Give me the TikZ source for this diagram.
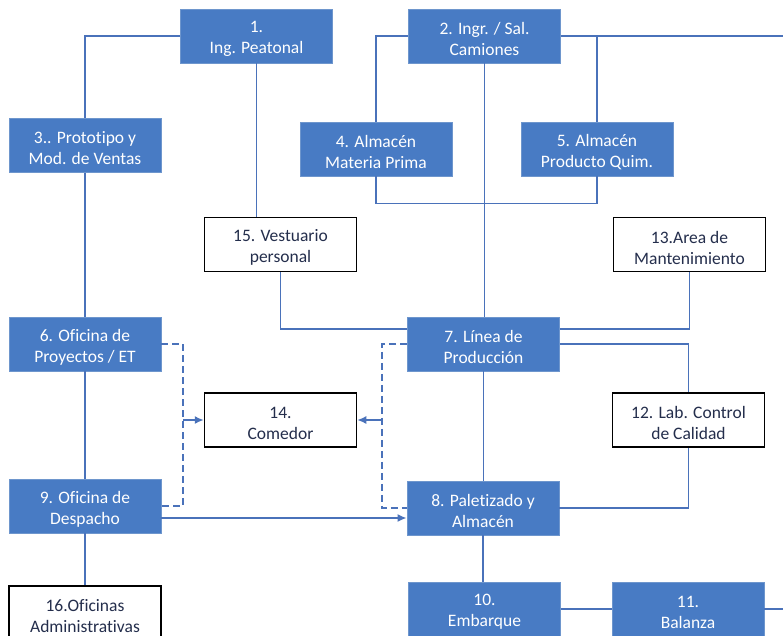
\documentclass[tikz,border=0pt]{standalone}
\usepackage{fontspec}
\setmainfont{Carlito}[Ligatures={NoCommon,NoRequired,NoContextual}]
\usetikzlibrary{arrows.meta,calc}
\definecolor{boxblue}{RGB}{72,123,196}
\definecolor{boxedge}{RGB}{110,150,205}
\definecolor{linkblue}{RGB}{74,114,186}
\definecolor{inktext}{RGB}{36,46,76}
\tikzset{
  area/.style={minimum width=152pt, minimum height=54pt, inner sep=0pt},
  areatext/.style={align=center, font=\fontsize{17.5}{21}\selectfont, yshift=-3pt},
  bluebox/.style={area, fill=boxblue, draw=boxedge, line width=0.8pt,
    label={[areatext, text=white]center:#1}},
  whitebox/.style={area, fill=white, draw=black, line width=1.5pt,
    label={[areatext, text=inktext]center:#1}},
  link/.style={draw=linkblue, line width=1.6pt},
  dlink/.style={link, dash pattern=on 7pt off 4pt},
  tip/.style={-{Latex[length=9pt,width=8pt]}}
}
\begin{document}
\begin{tikzpicture}[x=1pt,y=-1pt]
\clip (0,0) rectangle (783,636);
\fill[white] (0,0) rectangle (783,636);

% process areas
\node[bluebox={1.\\Ing. Peatonal}]              (b1)  at (256.5,36)   {};
\node[bluebox={2. Ingr. / Sal.\\Camiones}]      (b2)  at (484.5,36)   {};
\node[bluebox={3.. Prototipo y\\Mod. de Ventas}] (b3) at (85,145.5)   {};
\node[bluebox={4. Almacén\\Materia Prima}]      (b4)  at (376,149)    {};
\node[bluebox={5. Almacén\\Producto Quim.}]     (b5)  at (597,149)    {};
\node[whitebox={15. Vestuario\\personal}]       (b15) at (280.5,244.5) {};
\node[whitebox={13.Area de\\Mantenimiento}]     (b13) at (689.5,244.5) {};
\node[bluebox={6. Oficina de\\Proyectos / ET}]  (b6)  at (85,344)     {};
\node[bluebox={7. Línea de\\Producción}]        (b7)  at (483.5,344)  {};
\node[whitebox={14.\\Comedor}]                  (b14) at (280.5,420)  {};
\node[whitebox={12. Lab. Control\\de Calidad}]  (b12) at (688.5,420)  {};
\node[bluebox={9. Oficina de\\Despacho}]        (b9)  at (85,506)     {};
\node[bluebox={8. Paletizado y\\Almacén}]       (b8)  at (483,508)    {};
\node[whitebox={16.Oficinas\\Administrativas}]  (b16) at (85,613)     {};
\node[bluebox={10.\\Embarque}]                  (b10) at (484.5,609)  {};
\node[bluebox={11.\\Balanza}]                   (b11) at (688,609)    {};

% free ends at the right border and dashed bus lines
\coordinate (eastA) at (783,36);
\coordinate (eastB) at (783,609);
\coordinate (dl) at (183,344);
\coordinate (dr) at (382,344);

% solid links
\draw[link] (b1.west) -| (b3.north);
\draw[link] (b1.south) -- (b1.south |- b15.north);
\draw[link] (b3.south) -- (b6.north);
\draw[link] (b6.south) -- (b9.north);
\draw[link] (b9.south) -- (b16.north);
\draw[link] (b2.west) -| (b4.north);
\draw[link] (b2.east) -- (eastA);
\draw[link] (b5.north) -- (b5.north |- b2.east);
\draw[link] (b2.south) -- (b2.south |- b7.north);
\draw[link] (b4.south) -- ++(0,27) -| (b5.south);
\draw[link] (b15.south) |- ($(b7.west)+(0,-15)$);
\draw[link] (b13.south) |- ($(b7.east)+(0,-15)$);
\draw[link] (b7.east) -| (b12.north);
\draw[link] (b12.south) |- (b8.east);
\draw[link] (b7.south) -- (b7.south |- b8.north);
\draw[link] (b8.south) -- (b8.south |- b10.north);
\draw[link] (b10.east) -- (b11.west);
\draw[link] (b11.east) -- (eastB);
\draw[link,tip] ($(b9.east)+(0,12)$) -- ($(b8.west |- b9.east)+(0,12)$);

% dashed links to the dining room
\draw[dlink] (b6.east) -- (dl) |- (b9.east);
\draw[dlink] (b7.west) -- (dr) |- (b8.west);
\draw[link,tip] (dl |- b14.west) -- (b14.west);
\draw[link,tip] (dr |- b14.east) -- (b14.east);
\end{tikzpicture}
\end{document}
